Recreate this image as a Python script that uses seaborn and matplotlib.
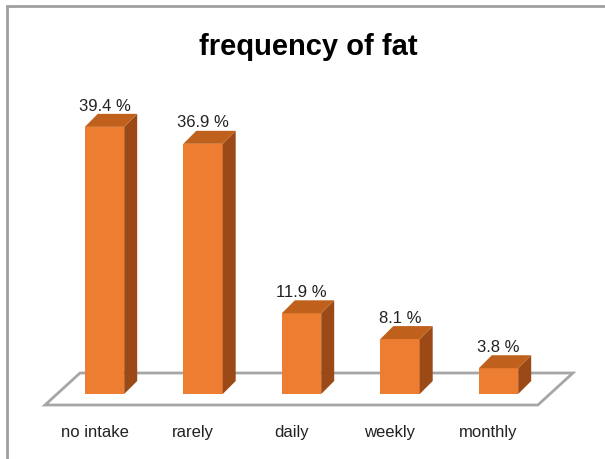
import matplotlib
matplotlib.use("Agg")
import matplotlib.pyplot as plt
from matplotlib.patches import Polygon, Rectangle
import seaborn as sns
import pandas as pd

categories = ["no intake", "rarely", "daily", "weekly", "monthly"]
values = [39.4, 36.9, 11.9, 8.1, 3.8]
value_labels = ["39.4 %", "36.9 %", "11.9 %", "8.1 %", "3.8 %"]
title = "frequency of fat"

FRONT = "#ED7D31"
TOP = "#C0601D"
SIDE = "#9B4A17"
FLOOR = "#A6A6A6"
TEXT = "#222222"

sns.set_theme(style="white")
plt.rcParams["font.family"] = ["Liberation Sans Narrow", "Liberation Sans", "DejaVu Sans"]

W, H = 605, 460
fig = plt.figure(figsize=(W / 100, H / 100), dpi=100)

# axes placed so that the category slots and the value scale land where wanted
slot = 98.5
px_per_unit = 6.78
x_left = 104.5 - slot / 2
y_zero = 395
ymax = 45
ax = fig.add_axes([x_left / W, (H - y_zero) / H, 5 * slot / W, ymax * px_per_unit / H])

df = pd.DataFrame({"category": categories, "value": values})
sns.barplot(data=df, x="category", y="value", color=FRONT, saturation=1,
            width=0.40, ax=ax, zorder=3)
ax.set_xlim(-0.5, 4.5)
ax.set_ylim(0, ymax)
ax.axis("off")

# depth offset of the 3-D faces (data units)
dx = 13 / slot
dy = 13 / px_per_unit

# floor parallelogram
fdx = 35 / slot
fdy = 32 / px_per_unit
f_front = -11 / px_per_unit
f_x0, f_x1 = -0.604, 4.40
floor = Polygon([(f_x0, f_front), (f_x1, f_front), (f_x1 + fdx, f_front + fdy),
                 (f_x0 + fdx, f_front + fdy)], closed=True, facecolor="white",
                edgecolor=FLOOR, linewidth=2, zorder=1, clip_on=False)
ax.add_patch(floor)

for i, bar in enumerate(ax.patches[:len(values)]):
    bar.set_clip_on(False)
    bar.set_edgecolor("none")
    x0 = bar.get_x()
    x1 = x0 + bar.get_width()
    h = bar.get_height()
    side = Polygon([(x1, 0), (x1 + dx, dy), (x1 + dx, h + dy), (x1, h)],
                   closed=True, facecolor=SIDE, edgecolor="none", zorder=3, clip_on=False)
    top = Polygon([(x0, h), (x1, h), (x1 + dx, h + dy), (x0 + dx, h + dy)],
                  closed=True, facecolor=TOP, edgecolor="none", zorder=3, clip_on=False)
    ax.add_patch(side)
    ax.add_patch(top)
    ax.text(x0 + bar.get_width() / 2, h + dy + 0.2, value_labels[i],
            ha="center", va="bottom", fontsize=12, color=TEXT, clip_on=False)
    ax.text(x0 + bar.get_width() / 2 - 10 / slot, -38 / px_per_unit, categories[i],
            ha="center", va="center", fontsize=12, color=TEXT, clip_on=False)

fig.text(308 / W, 1 - 47 / H, title, ha="center", va="center",
         fontsize=21, fontweight="bold", color="black")

# frame around the chart area
fig.add_artist(Rectangle((7 / W, -0.1), 1.2, 1 - 7 / H + 0.1, transform=fig.transFigure,
                         fill=False, edgecolor="#A0A0A0", linewidth=2))

fig.savefig("out.png", dpi=100)
